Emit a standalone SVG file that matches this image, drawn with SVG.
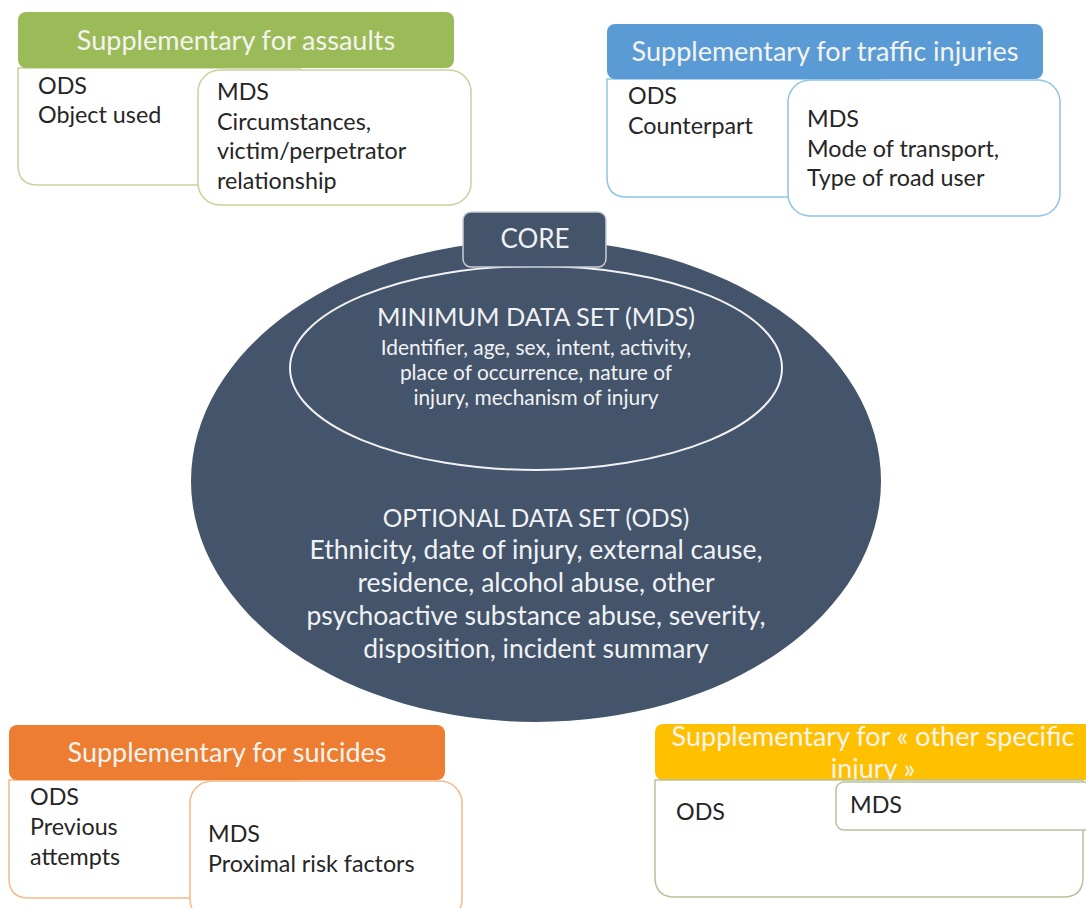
<svg xmlns="http://www.w3.org/2000/svg" width="1086" height="908" viewBox="0 0 1086 908">
<style>
  text { font-family: Lato, "Open Sans", "Liberation Sans", sans-serif; }
  .hd { fill: #f4f4ee; font-size: 27px; text-anchor: middle; }
  .bt { fill: #262626; font-size: 23.3px; }
  .body { fill: #ffffff; stroke-width: 1.5; }
  .core { fill: #f0f2f5; text-anchor: middle; }
</style>
<rect width="1086" height="908" fill="#ffffff"/>

<!-- Assaults -->
<g id="assaults">
  <path class="body" stroke="#c5d49a" d="M18,68 H300 V185 H38 Q18,185 18,165 Z"/>
  <rect x="18" y="12" width="436" height="56" rx="8" fill="#9bbb59"/>
  <text class="hd" x="236" y="50">Supplementary for assaults</text>
  <text class="bt" x="38" y="94">ODS</text>
  <text class="bt" x="38" y="123">Object used</text>
  <rect class="body" stroke="#c5d49a" x="198" y="70" width="273" height="135" rx="22"/>
  <text class="bt" x="217" y="100">MDS</text>
  <text class="bt" x="217" y="130">Circumstances,</text>
  <text class="bt" x="217" y="159">victim/perpetrator</text>
  <text class="bt" x="217" y="189">relationship</text>
</g>

<!-- Traffic -->
<g id="traffic">
  <path class="body" stroke="#8fc3e6" d="M607,79 H880 V197 H627 Q607,197 607,177 Z"/>
  <rect x="607" y="24" width="436" height="55" rx="8" fill="#5b9bd5"/>
  <text class="hd" x="825" y="61">Supplementary for traffic injuries</text>
  <text class="bt" x="628" y="104">ODS</text>
  <text class="bt" x="628" y="134">Counterpart</text>
  <rect class="body" stroke="#8fc3e6" x="788" y="80" width="272" height="136" rx="22"/>
  <text class="bt" x="807" y="127">MDS</text>
  <text class="bt" x="807" y="157">Mode of transport,</text>
  <text class="bt" x="807" y="186">Type of road user</text>
</g>

<!-- Core -->
<g id="core">
  <ellipse cx="536" cy="481" rx="345" ry="241" fill="#44546a"/>
  <ellipse cx="536" cy="368" rx="246" ry="102" fill="none" stroke="#f2f2f2" stroke-width="2"/>
  <text class="core" x="536" y="326" font-size="25.3">MINIMUM DATA SET (MDS)</text>
  <text class="core" x="536" y="355" font-size="20.9">Identifier, age, sex, intent, activity,</text>
  <text class="core" x="536" y="380" font-size="20.9">place of occurrence, nature of</text>
  <text class="core" x="536" y="405" font-size="20.9">injury, mechanism of injury</text>
  <text class="core" x="536" y="527" font-size="24.4">OPTIONAL DATA SET (ODS)</text>
  <text class="core" x="536" y="559" font-size="26.5">Ethnicity, date of injury, external cause,</text>
  <text class="core" x="536" y="592" font-size="26.5">residence, alcohol abuse, other</text>
  <text class="core" x="536" y="625" font-size="26.5">psychoactive substance abuse, severity,</text>
  <text class="core" x="536" y="658" font-size="26.5">disposition, incident summary</text>
</g>
<g id="core-label">
  <rect x="463" y="212" width="143" height="55" rx="8" fill="#44546a" stroke="#c9ced6" stroke-width="1.5"/>
  <text class="core" x="535" y="248" font-size="26">CORE</text>
</g>

<!-- Suicides -->
<g id="suicides">
  <path class="body" stroke="#f5b98a" d="M9,780 H300 V898 H29 Q9,898 9,878 Z"/>
  <rect x="9" y="725" width="436" height="55" rx="8" fill="#ed7d31"/>
  <text class="hd" x="227" y="762">Supplementary for suicides</text>
  <text class="bt" x="30" y="805">ODS</text>
  <text class="bt" x="30" y="835">Previous</text>
  <text class="bt" x="30" y="865">attempts</text>
  <rect class="body" stroke="#f5b98a" x="190" y="781" width="272" height="140" rx="22"/>
  <text class="bt" x="208" y="842">MDS</text>
  <text class="bt" x="208" y="872">Proximal risk factors</text>
</g>

<!-- Other specific injury -->
<g id="other-specific">
  <rect x="655" y="724" width="438" height="56" rx="8" fill="#ffc000"/>
  <text class="hd" x="873" y="746">Supplementary for « other specific</text>
  <text class="hd" x="873" y="778">injury »</text>
  <path class="body" stroke="#b9c19a" d="M655,780 H1083 V877 Q1083,897 1063,897 H675 Q655,897 655,877 Z"/>
  <rect class="body" stroke="#b9c19a" x="836" y="782" width="270" height="48" rx="8"/>
  <text class="bt" x="676" y="820">ODS</text>
  <text class="bt" x="850" y="813">MDS</text>
</g>

<g id="connectors"></g>
</svg>
